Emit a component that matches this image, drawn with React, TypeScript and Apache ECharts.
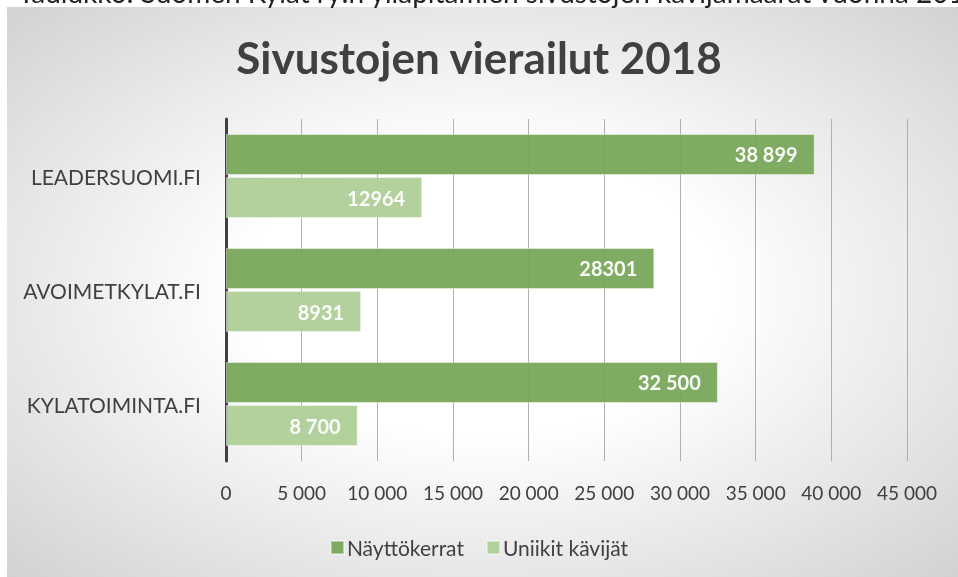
import React, { useEffect, useRef } from "react";
import * as echarts from "echarts";

const categories = ["LEADERSUOMI.FI", "AVOIMETKYLAT.FI", "KYLATOIMINTA.FI"];
const seriesNames = ["Näyttökerrat", "Uniikit kävijät"];
const pageViews = [38899, 28301, 32500];
const uniqueVisitors = [12964, 8931, 8700];
const pageViewLabels = ["38 899", "28301", "32 500"];
const uniqueVisitorLabels = ["12964", "8931", "8 700"];
const title = "Sivustojen vierailut 2018";
const captionAbove = "Taulukko: Suomen Kylät ry:n ylläpitämien sivustojen kävijämäärät vuonna 2018.";

const FONT = "Lato, 'Open Sans', sans-serif";
const TXT = "#404040";
const DARK = "#78a85a";
const LIGHT = "#aecf98";

function fmt(v: number): string {
  return String(v).replace(/\B(?=(\d{3})+(?!\d))/g, " ");
}

export default function App() {
  const ref = useRef<HTMLDivElement>(null);
  useEffect(() => {
    if (!ref.current) return;
    const chart = echarts.init(ref.current, undefined, { renderer: "svg" });
    chart.setOption({
      animation: false,
      textStyle: { fontFamily: FONT },
      graphic: [
        {
          type: "rect",
          z: -10,
          silent: true,
          shape: { x: 7, y: 7, width: 951, height: 570 },
          style: {
            fill: {
              type: "radial",
              x: 0.5,
              y: 0.5,
              r: 1,
              colorStops: [
                { offset: 0, color: "#ffffff" },
                { offset: 0.25, color: "#ffffff" },
                { offset: 0.85, color: "#c4c4c4" },
                { offset: 1, color: "#b8b8b8" },
              ],
            },
          },
        },
        {
          type: "text",
          left: 18,
          top: -22,
          silent: true,
          style: { text: captionAbove, fontFamily: FONT, fontSize: 28, fill: "#222" },
        },
      ],
      title: {
        text: title,
        left: "center",
        top: 30,
        textStyle: { fontFamily: FONT, fontSize: 44, fontWeight: "bold", color: TXT },
      },
      legend: {
        bottom: 14,
        left: "center",
        itemWidth: 13,
        itemHeight: 13,
        itemGap: 22,
        icon: "rect",
        textStyle: { fontFamily: FONT, fontSize: 21, color: TXT, padding: [0, 0, 0, -2] },
        data: seriesNames,
      },
      grid: { left: 226, right: 51, top: 119, bottom: 116, containLabel: false },
      xAxis: {
        type: "value",
        min: 0,
        max: 45000,
        interval: 5000,
        axisLine: { show: false },
        axisTick: { show: false },
        splitLine: { show: true, lineStyle: { color: "#b0b0b0", width: 1 } },
        axisLabel: {
          margin: 22,
          fontFamily: FONT,
          fontSize: 19,
          color: TXT,
          formatter: (v: number) => fmt(v),
        },
      },
      yAxis: {
        type: "category",
        inverse: true,
        data: categories,
        axisLine: { show: true, lineStyle: { color: TXT, width: 3 } },
        axisTick: { show: false },
        axisLabel: { margin: 25, fontFamily: FONT, fontSize: 21, color: TXT },
      },
      series: [
        {
          name: seriesNames[0],
          type: "bar",
          data: pageViews,
          barWidth: 41,
          barGap: "5%",
          itemStyle: { color: DARK, opacity: 0.95, borderColor: "rgba(255,255,255,0.45)", borderWidth: 1 },
          label: {
            show: true,
            position: "insideRight",
            distance: 17,
            color: "#ffffff",
            fontFamily: FONT,
            fontWeight: "bold",
            fontSize: 20,
            formatter: (p: any) => pageViewLabels[p.dataIndex],
          },
        },
        {
          name: seriesNames[1],
          type: "bar",
          data: uniqueVisitors,
          barWidth: 41,
          barGap: "5%",
          itemStyle: { color: LIGHT, opacity: 0.95, borderColor: "rgba(255,255,255,0.45)", borderWidth: 1 },
          label: {
            show: true,
            position: "insideRight",
            distance: 17,
            color: "#ffffff",
            fontFamily: FONT,
            fontWeight: "bold",
            fontSize: 20,
            formatter: (p: any) => uniqueVisitorLabels[p.dataIndex],
          },
        },
      ],
    });
    return () => chart.dispose();
  }, []);
  return (
    <div
      ref={ref}
      style={{ position: "fixed", left: 0, top: 0, width: 958, height: 577 }}
    />
  );
}
